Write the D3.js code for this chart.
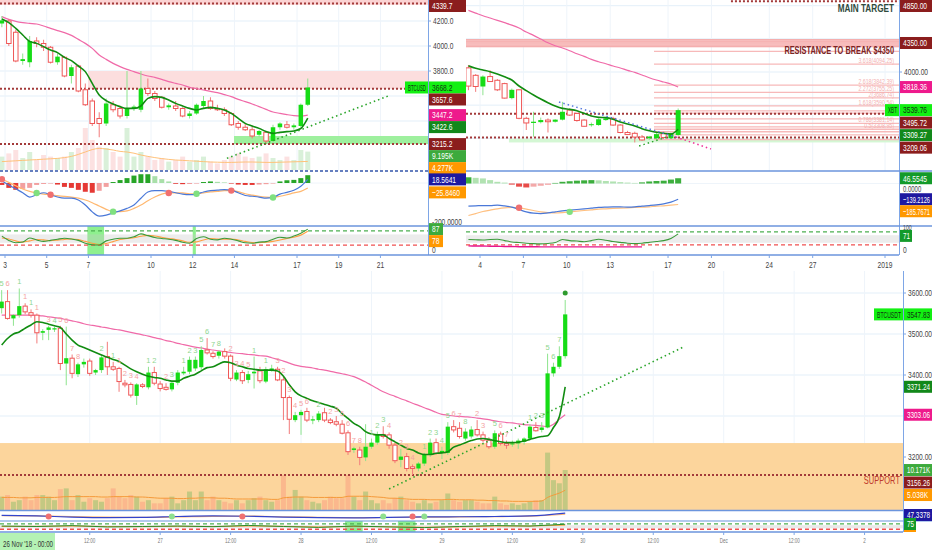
<!DOCTYPE html>
<html><head><meta charset="utf-8">
<script src="https://cdn.jsdelivr.net/npm/d3@7/dist/d3.min.js"></script>
<style>body{margin:0;background:#fff;overflow:hidden}text{font-family:'Liberation Sans',Arial,sans-serif;font-size:9.5px}</style>
</head><body><script>
// ================= DATA =================
// Panel A (top-left, BTCUSD, 8h candles) [open, high, low, close]
const aStartDay = 2.85, aStepDay = 1/3;
const aCandles = [
[4180,4240,4150,4205],[4200,4215,4000,4020],[4110,4130,3870,3880],[3880,3940,3850,3895],[3870,4080,3830,4040],
[4040,4070,3990,4020],[4020,4050,3960,3990],[3990,4000,3860,3870],[3870,3940,3850,3915],[3910,3920,3750,3760],
[3760,3850,3700,3830],[3840,3850,3630,3640],[3650,3700,3520,3530],[3560,3580,3360,3380],[3420,3470,3270,3380],
[3380,3580,3360,3540],[3530,3560,3470,3490],[3500,3520,3420,3440],[3440,3800,3420,3500],[3500,3530,3480,3515],
[3490,3800,3470,3660],[3660,3740,3600,3620],[3620,3640,3560,3580],[3590,3600,3500,3510],[3510,3540,3490,3525],
[3520,3560,3480,3500],[3500,3510,3430,3440],[3440,3480,3420,3460],[3460,3540,3450,3530],[3520,3600,3500,3560],
[3560,3590,3490,3500],[3500,3530,3480,3490],[3490,3510,3440,3460],[3460,3470,3360,3370],[3380,3400,3330,3350],
[3350,3380,3320,3330],[3330,3360,3260,3280],[3290,3330,3270,3320],[3310,3320,3215,3240],[3240,3370,3230,3350],
[3350,3390,3330,3380],[3370,3400,3340,3350],[3350,3380,3330,3365],[3360,3540,3350,3530],[3530,3740,3520,3668.2]];
const aEma = [4216,4187,4141,4088,4037,4021,3995,3968,3947,3909,3883,3840,3795,3701,3608,3563,3536,3515,3501,3501,
3520,3581,3595,3589,3568,3541,3520,3501,3488,3501,3509,3501,3488,3461,3421,3381,3360,3341,3315,3301,3309,3315,3320,3340,3422.6];
const aSma = [4235,4213,4197,4187,4181,4176,4160,4141,4123,4107,4085,4053,4021,3981,3928,3893,3861,3835,3813,3795,
3776,3760,3749,3733,3715,3701,3688,3669,3659,3648,3637,3627,3611,3595,3573,3555,3536,3515,3493,3472,3461,3451,3443,3440,3447.2];
const aVol = [6.7,8.3,10,6,9,5,7.5,6.7,6,6.7,9,11,21,15,11.7,11,9,6.7,21,6.7,9,6.7,5,6,4.2,5,6.7,4.2,5,6.7,4.2,3.3,5,6.7,8.3,6.7,6,6.7,8.3,6,5,6.7,5,10,9.195];
const aVolMa = [4.2,4.4,4.6,4.8,5.0,5.2,5.4,5.6,5.8,6.2,6.8,7.8,9.0,10.2,10.8,10.5,10.0,9.3,9.0,8.4,7.5,6.8,6.2,5.7,5.3,5.0,4.8,4.6,4.4,4.2,4.0,3.9,3.8,3.8,3.9,4.0,4.0,3.9,3.8,3.8,3.9,4.0,4.1,4.2,4.277];
const aMacd = [10,-10,-30,-50,-72,-60,-50,-60,-72,-78,-78,-87,-113,-148,-170,-165,-153,-143,-130,-113,-78,-46,-39,-39,-43,-50,-57,-60,-57,-46,-39,-37,-34,-37,-50,-64,-68,-72,-78,-74,-57,-48,-37,-17,18.5641];
const aSignal = [19,3,-14,-31,-43,-51,-57,-60,-65,-69,-72,-78,-87,-101,-118,-135,-147,-147,-143,-130,-113,-91,-72,-57,-51,-51,-51,-55,-55,-51,-46,-43,-39,-39,-44,-55,-62,-68,-72,-74,-68,-60,-51,-43,-25.846];
const aHist = [-10,-25,-35,-30,-25,-10,-5,-3,-8,-20,-25,-35,-45,-50,-40,-20,5,15,25,38,45,45,35,20,8,-4,-6,-5,-3,5,8,6,3,-3,-8,-10,-10,-8,-6,-3,8,14,16,25,40];
const aCrossIdx = [0,5,7,16,24,28,33,39], aCrossUp = [0,1,0,1,0,1,0,1];
const aStochK = [58,40,30,33,50,42,36,40,45,49,46,40,28,22,21,38,45,49,49,55,67,60,52,48,45,40,32,28,48,55,45,42,49,45,38,30,28,33,35,45,53,50,58,70,87];
const aStochD = [50,46,38,33,38,44,42,39,41,44,46,44,36,28,23,27,35,44,48,51,57,61,58,53,48,44,38,32,34,42,48,46,45,46,42,36,31,30,32,36,42,48,53,62,78];
const aStochHi = [[6.95,7.75],[12.0,12.15]];
const aTicks = [4200,4000,3800,3600,3400];
const aDayTicks = [3,5,7,10,12,14,17,19,21];
const aPinkZone = [3657.6,3800], aPinkZoneFromDay = 6.98;
const aGreenZone = [3215.2,3280], aGreenZoneFromDay = 13.98;
const aTopZone = [4330,4372];
const aLevels = [4339.7,3657.6,3215.2];
const aTrend = [[13.64,3101],[21.4,3602]];

// Panel B (top-right, XBT, 12h candles)
const bStartDay = 3.2, bStepDay = 0.5;
const bCandles = [
[4050,4085,3780,3830],[3960,3975,3760,3825],[3825,3960,3720,3945],[3945,4020,3880,3885],[3900,3915,3770,3785],
[3860,3870,3680,3685],[3685,3800,3670,3785],[3785,3790,3430,3441],[3441,3460,3300,3385],[3385,3520,3220,3400],
[3395,3450,3380,3420],[3420,3440,3270,3400],[3400,3430,3390,3425],[3425,3640,3415,3520],[3540,3560,3470,3480],
[3500,3510,3400,3415],[3420,3430,3340,3345],[3360,3390,3340,3370],[3360,3440,3350,3430],[3420,3450,3410,3440],
[3440,3460,3350,3360],[3360,3370,3260,3270],[3270,3290,3240,3245],[3260,3280,3150,3215],[3215,3240,3170,3180],
[3200,3230,3180,3220],[3200,3270,3190,3250],[3255,3280,3200,3210],[3200,3270,3190,3260],[3240,3560,3230,3539.76]];
const bEma = [4076,4044,4024,4004,3976,3943,3903,3831,3775,3722,3674,3630,3590,3561,3549,3533,3501,3469,3453,3449,3429,3397,3373,3348,3316,3292,3272,3260,3252,3309.27];
const bSma = [4743,4711,4679,4651,4623,4595,4566,4530,4482,4442,4398,4353,4317,4289,4257,4221,4189,4152,4124,4100,4072,4048,4020,3996,3964,3931,3903,3879,3855,3818.36];
const bMacd = [-200,-198,-195,-195,-192,-198,-209,-230,-251,-263,-266,-260,-251,-242,-236,-230,-224,-218,-212,-209,-207,-207,-209,-207,-200,-195,-189,-180,-165,-139.2126];
const bSignal = [-283,-266,-248,-236,-224,-215,-212,-215,-227,-239,-251,-257,-260,-257,-251,-245,-239,-233,-227,-224,-221,-218,-215,-212,-209,-207,-200,-198,-192,-185.7671];
const bHist = [55,50,45,30,15,8,-10,-28,-35,-28,-20,-12,5,15,20,25,28,30,28,22,18,12,8,5,10,18,22,25,35,46.5545];
const bCrossIdx = [7,14], bCrossUp = [0,1];
const bStochK = [45,44,43,45,46,40,34,31,28,26,25,27,31,45,40,38,35,40,46,42,36,32,28,26,28,32,36,40,50,71];
const bStochM = [16,15,15,14,14,13,13,12,12,12,11,11,11,11,11,11,11,11,11,11,11,11,11,11,11];
const bTicks = [4800,4400,4000,3600,3200];
const bDayTicks = [4,7,10,13,17,20,24,27,32];
const bDayLabels = ['4','7','10','13','17','20','24','27','2019'];
const bResZone = [4300,4395];
const bGreenZone = [3150,3195], bGreenZoneFromDay = 6.0;
const bLevels = [3495.72,3209.06];
const bTarget = 4855, bTargetFromDay = 21.35;
const bFibFromDay = 16.03;
const bFibTxt = ['4.236','3.618','2.618','2.272','2','1.618','1.382','1.272','1','0.786','0.618','0.5','0.382','0.236','0'];
const bFibPrice = [4249.9,4094.25,3842.39,3755.25,3686.74,3590.54,3531.15,3503.40,3434.88,3381.14,3338.67,3308.95,3279.23,3242.46,3183.02];
const bFibLabeled = [0,1,1,1,1,1,0,0,0,1,0,1,0,0,0];
const bTrendBlue = [[9.46,3638],[17.55,3216]], bTrendPink = [[17.55,3216],[19.97,3071]], bTrendGreen = [[15.0,3107],[17.35,3240]];

// Panel C (bottom, BTCUSDT, 1h candles)
const cCandles = [
[3563,3607,3550,3579],[3579,3607,3535,3538],[3538,3548,3520,3546],[3546,3611,3540,3568],[3568,3575,3548,3554],
[3552,3560,3540,3546],[3546,3550,3477,3503],[3503,3512,3485,3507],[3510,3520,3485,3516],[3511,3518,3505,3514],
[3514,3520,3412,3428],[3428,3518,3375,3441],[3441,3450,3392,3404],[3402,3430,3395,3426],[3426,3440,3418,3432],
[3434,3440,3398,3404],[3406,3415,3400,3412],[3412,3450,3405,3443],[3445,3481,3400,3420],[3420,3432,3410,3414],
[3416,3420,3359,3384],[3380,3388,3370,3376],[3377,3382,3345,3351],[3349,3380,3327,3377],[3376,3380,3368,3372],
[3370,3420,3365,3406],[3406,3420,3375,3380],[3378,3385,3360,3367],[3370,3380,3362,3365],[3365,3385,3360,3381],
[3381,3412,3375,3406],[3404,3420,3400,3408],[3408,3445,3402,3437],[3416,3445,3410,3437],[3419,3470,3412,3461],
[3461,3490,3450,3454],[3453,3458,3440,3445],[3447,3460,3440,3457],[3457,3465,3440,3446],[3446,3450,3385,3392],
[3389,3412,3385,3406],[3406,3412,3378,3386],[3388,3410,3380,3402],[3404,3445,3367,3408],[3410,3420,3380,3386],
[3384,3420,3380,3414],[3412,3425,3408,3416],[3414,3420,3385,3388],[3388,3395,3290,3345],[3345,3350,3256,3292],
[3290,3310,3285,3302],[3302,3315,3254,3310],[3311,3320,3285,3290],[3289,3300,3280,3292],[3290,3312,3285,3306],
[3308,3320,3285,3290],[3290,3295,3280,3284],[3286,3300,3275,3280],[3280,3290,3255,3258],[3259,3265,3205,3213],
[3217,3225,3210,3221],[3217,3225,3180,3199],[3199,3280,3190,3225],[3225,3245,3220,3235],[3235,3262,3230,3255],
[3255,3275,3245,3250],[3254,3260,3220,3229],[3229,3235,3185,3191],[3193,3220,3175,3201],[3201,3210,3165,3172],
[3176,3182,3156,3172],[3172,3188,3165,3184],[3184,3210,3178,3205],[3205,3245,3200,3235],[3235,3245,3205,3209],
[3210,3225,3195,3215],[3210,3285,3205,3274],[3274,3290,3260,3266],[3270,3285,3245,3250],[3245,3270,3240,3262],
[3250,3275,3245,3267],[3267,3290,3250,3254],[3254,3262,3235,3241],[3241,3248,3220,3225],[3225,3265,3220,3258],
[3256,3262,3228,3233],[3233,3240,3220,3229],[3232,3240,3225,3233],[3233,3245,3220,3240],[3237,3248,3230,3245],
[3245,3280,3242,3274],[3272,3285,3262,3264],[3266,3285,3260,3272],[3272,3452,3270,3404],[3404,3430,3396,3420],
[3420,3470,3415,3446],[3446,3583,3440,3547.83]];
const cEma = [3473,3489,3500,3505,3514,3522,3530,3528,3524,3520,3516,3500,3485,3473,3467,3461,3455,3449,3443,3438,
3433,3424,3415,3408,3402,3397,3394,3392,3388,3385,3385,3392,3397,3402,3410,3418,3420,3427,3432,3430,
3424,3420,3416,3414,3412,3412,3412,3410,3397,3376,3359,3349,3343,3337,3333,3328,3324,3319,3306,3294,
3282,3274,3262,3256,3254,3254,3245,3237,3229,3221,3217,3210,3206,3206,3209,3210,3213,3224,3229,3235,
3240,3244,3245,3243,3240,3237,3235,3235,3236,3239,3243,3247,3250,3252,3272,3298,3371.24];
const cSma = [3546,3546,3546,3546,3546,3546,3545,3544,3542,3540,3538,3535,3532,3529,3525,3522,3520,3517,3515,3512,
3510,3507,3504,3501,3498,3495,3491,3488,3484,3481,3477,3474,3471,3468,3466,3463,3461,3459,3457,3455,
3453,3452,3450,3449,3447,3446,3442,3438,3434,3429,3424,3421,3419,3417,3414,3412,3409,3406,3403,3400,
3396,3390,3383,3375,3367,3359,3353,3348,3342,3337,3331,3326,3320,3315,3309,3304,3302,3300,3299,3298,
3297,3295,3293,3291,3288,3286,3284,3283,3281,3279,3278,3277,3276,3274,3280,3292,3303.06];
const cVol = [3.4,3.8,2.1,2.5,3.4,2.5,3.8,3.8,3.4,2.5,5.3,5.5,2.5,3.8,2.1,3.0,2.5,2.1,3.0,5.5,
3.4,3.0,3.8,3.4,2.1,2.5,1.7,1.7,3.0,3.4,1.7,2.5,4.7,2.5,4.7,2.5,3.4,2.5,2.1,1.7,
2.5,1.7,2.5,3.0,3.4,2.5,2.1,2.5,8.9,3.4,5.1,3.4,2.5,2.1,1.7,2.5,3.4,3.0,3.0,8.9,
3.4,2.5,4.7,2.5,1.7,2.5,1.7,3.0,3.4,2.5,2.1,1.7,2.5,1.7,2.1,2.5,4.2,2.5,2.1,2.5,
2.5,2.1,1.7,1.7,3.4,1.7,1.3,1.7,1.3,1.7,2.1,2.5,2.5,14.6,7.6,6.8,10.171];
const cVolMa = [3.2,3.2,3.2,3.1,3.1,3.1,3.2,3.2,3.2,3.2,3.3,3.4,3.4,3.4,3.4,3.4,3.4,3.3,3.3,3.4,
3.4,3.4,3.4,3.3,3.3,3.2,3.1,3.0,3.0,3.0,2.9,2.9,3.0,3.0,3.1,3.1,3.1,3.0,3.0,2.9,
2.8,2.8,2.8,2.8,2.8,2.8,2.7,2.7,3.1,3.2,3.3,3.3,3.3,3.2,3.2,3.2,3.2,3.2,3.2,3.5,
3.5,3.5,3.5,3.4,3.3,3.2,3.0,3.0,2.9,2.8,2.7,2.7,2.7,2.6,2.6,2.6,2.7,2.7,2.6,2.6,
2.6,2.5,2.5,2.4,2.4,2.3,2.3,2.2,2.2,2.2,2.2,2.2,2.3,3.2,3.8,4.3,5.038];
const cTicks = [3600,3500,3400,3300,3200];
const cTimeTickIdx = [15,27,39,51,63,75,87,99,111,123,135,147];
const cTimeLabels = ['12:00','27','12:00','28','12:00','29','12:00','30','12:00','Dec','12:00','2'];
const cSupportZoneTop = 3234, cSupport = 3156.26;
const cTrend = [[66.0,3122],[116.1,3468]];
const tdIdx = [0,1,3,4,5,6,8,9,10,11,12,13,17,19,20,21,22,23,25,26,28,29,31,32,33,34,35,36,37,39,40,41,42,43,45,47,48,49,50,51,52,54,56,57,58,59,60,61,63,64,65,66,68,69,70,72,73,74,75,76,77,78,79,81,82,84,85,86,90,91,92,93,94,95];
const tdTxt = ['5','6','1','1','1','1','3','4','5','6','7','8','2','1','1','2','3','4','1','2','2','3','1','2','3','5','6','7','8','2','3','4','5','1','1','3','2','3','4','5','6','2','2','3','5','6','7','8','1','2','3','4','2','3','4','1','2','3','4','5','6','7','8','2','3','5','6','7','1','2','3','5','6','7'];
const tdUp = [1,0,1,0,1,0,0,1,0,0,0,0,1,1,0,0,0,0,1,1,0,1,1,1,1,1,1,1,1,0,0,0,0,1,1,0,0,0,0,0,0,1,0,0,0,0,0,0,1,1,1,0,0,0,0,1,1,1,1,1,0,0,1,0,0,1,0,0,1,1,1,1,1,1];
const cMiniIdx = [0,6,12,18,24,30,36,42,48,54,60,66,72,78,84,90,96];
const cMiniMacd = [10,5,-5,-10,-8,0,5,2,-6,-10,-12,-8,-4,-2,0,5,30];
const cMiniSig = [8,6,0,-6,-8,-4,2,3,-2,-7,-10,-9,-6,-3,-1,3,20];
const cMiniDots = [[8,0],[29,1],[41,0],[65,1],[70,0],[72,1]];
const cMiniK = [55,50,60,45,50,55,48,62,50,40,55,45,38,50,60,55,75];
const cMiniD = [50,52,55,50,48,52,50,55,52,45,50,48,42,46,55,55,65];
const cStochHi = [[58.5,61.5],[67.5,70.5]];

// ================= DRAW =================
const W = 932, H = 550;
const DR='#8b1d1d', PINK='#ee1a8c', DG='#12881a', GM='#3daa3d', OR='#ff9800', NAVY='#1e18a0', BG='#12f012';
const svg = d3.select('body').append('svg').attr('width',W).attr('height',H).style('display','block');
const defs = svg.append('defs');
let cid = 0;
function clipG(x,y,w,h){ const id='c'+(cid++); defs.append('clipPath').attr('id',id).append('rect').attr('x',x).attr('y',y).attr('width',w).attr('height',h); return svg.append('g').attr('clip-path',`url(#${id})`); }
function hline(g,x1,x2,y,col,w,dash){ g.append('line').attr('x1',x1).attr('x2',x2).attr('y1',y).attr('y2',y).attr('stroke',col).attr('stroke-width',w||1).attr('stroke-dasharray',dash||null); }
function vline(g,x,y1,y2,col,w,dash){ g.append('line').attr('x1',x).attr('x2',x).attr('y1',y1).attr('y2',y2).attr('stroke',col).attr('stroke-width',w||1).attr('stroke-dasharray',dash||null); }
function candles(g,data,xf,y,w){
  const up = d=>d[3]>=d[0];
  g.selectAll(null).data(data).join('line').attr('x1',(d,i)=>xf(i)).attr('x2',(d,i)=>xf(i))
   .attr('y1',d=>y(d[1])).attr('y2',d=>y(d[2])).attr('stroke',d=>up(d)?'#8ee48e':'#f27b7b');
  g.selectAll(null).data(data).join('rect').attr('x',(d,i)=>xf(i)-w/2).attr('y',d=>y(Math.max(d[0],d[3])))
   .attr('width',w).attr('height',d=>Math.max(1,Math.abs(y(d[0])-y(d[3]))))
   .attr('fill',d=>up(d)?'#16dc16':'#fff').attr('stroke',d=>up(d)?'none':'#ef5757').attr('stroke-width',1);
}
function path(g,vals,xf,y,col,w,curve,dash){
  g.append('path').datum(vals).attr('fill','none').attr('stroke',col).attr('stroke-width',w)
   .attr('stroke-dasharray',dash||null)
   .attr('d',d3.line().x((d,i)=>xf(i)).y(d=>y(d)).curve(curve||d3.curveMonotoneX));
}
function seg(g,pts,xs,ys,col,w,dash){
  g.append('path').datum(pts).attr('fill','none').attr('stroke',col).attr('stroke-width',w).attr('stroke-dasharray',dash)
   .attr('d',d3.line().x(d=>xs(d[0])).y(d=>ys(d[1])));
}
function hist(g,vals,xf,y,w,alpha){
  g.selectAll(null).data(vals).join('rect').attr('x',(d,i)=>xf(i)-w/2)
   .attr('y',d=>Math.min(y(0),y(d))).attr('width',w).attr('height',d=>Math.abs(y(d)-y(0)))
   .attr('fill',(d,i)=>{ const p = i>0?vals[i-1]:d; if(d>=0) return d>=p?'#27a527':'#a9dfa9'; return d<=p?'#e53935':'#f2a0a0'; })
   .attr('opacity',alpha||1);
}
function volBars(g,vals,cands,xf,y,w,gc,rc){
  g.selectAll(null).data(vals).join('rect').attr('x',(d,i)=>xf(i)-w/2).attr('y',d=>y(d)).attr('width',w)
   .attr('height',d=>y(0)-y(d)).attr('fill',(d,i)=>cands[i][3]>=cands[i][0]?gc:rc);
}
const textLayer = [];
function txt(g,x,y,s,o){
  o=o||{};
  const t = g.append('text').attr('x',x).attr('y',y).attr('dy','0.35em').text(s)
    .attr('fill',o.fill||'#444').attr('text-anchor',o.anchor||'start')
    .style('font-size',(o.size||9.5)+'px').style('font-weight',o.bold?'bold':null);
  textLayer.push([t.node(),o.k||0.7,o.max||0]);
  return t;
}
function tag(g,x,y,s,bg,fg,w){
  g.append('rect').attr('x',x).attr('y',y-6).attr('width',w).attr('height',12).attr('fill',bg);
  txt(g,x+3,y,s,{fill:fg||'#fff',max:w-5});
}
function place(items,gap,minY){ items.sort((a,b)=>a.y-b.y); if(minY!==undefined && items.length && items[0].y<minY) items[0].y=minY;
  for(let i=1;i<items.length;i++) if(items[i].y<items[i-1].y+gap) items[i].y=items[i-1].y+gap; return items; }
function priceTicks(ticks,ys,X,fmt,tags,max){
  ticks.forEach(t=>{ const y=ys(t); hline(svg,X,X+3,y,'#7ea6e6');
    if(!tags.some(l=>Math.abs(l.y-y)<10)) txt(svg,X+5,y,fmt(t),{max:max}); });
}

// ---------- Panel A ----------
const xA = d3.scaleLinear().domain([3,17]).range([5,297]);
const axA = i => xA(aStartDay + i*aStepDay);
const yA = d3.scaleLinear().domain([3200,4200]).range([146,21]);
const vA = d3.scaleLinear().domain([0,10]).range([170,150]);
const mA = d3.scaleLinear().domain([-200,0]).range([222,183]);
const sA = d3.scaleLinear().domain([0,100]).range([250,226]);
const XA = 428;
const gA = clipG(0,0,XA,171);
aTicks.forEach(t=>hline(gA,0,XA,yA(t),'#e3eff9'));
aDayTicks.forEach(d=>vline(gA,xA(d),0,171,'#eef4fa'));
gA.append('rect').attr('x',0).attr('y',yA(aTopZone[1])).attr('width',XA).attr('height',yA(aTopZone[0])-yA(aTopZone[1])).attr('fill','#fbd3d3');
gA.append('rect').attr('x',xA(aPinkZoneFromDay)).attr('y',yA(aPinkZone[1])).attr('width',XA-xA(aPinkZoneFromDay)).attr('height',yA(aPinkZone[0])-yA(aPinkZone[1])).attr('fill','#fcdede');
gA.append('rect').attr('x',xA(aGreenZoneFromDay)).attr('y',yA(aGreenZone[1])).attr('width',XA-xA(aGreenZoneFromDay)).attr('height',yA(aGreenZone[0])-yA(aGreenZone[1])).attr('fill','#9ef09e');
aLevels.forEach(v=>hline(gA,0,XA,yA(v),'#a33a3a',2,'2,2'));
volBars(gA,aVol,aCandles,axA,vA,5,'rgba(120,200,120,0.28)','rgba(240,120,120,0.22)');
path(gA,aVolMa,axA,vA,'#ffc27a',1);
path(gA,aSma,axA,yA,'#f06aa8',1.2);
candles(gA,aCandles,axA,yA,4.5);
path(gA,aEma,axA,yA,'#118c11',1.6);
seg(gA,aTrend,xA,yA,'#2aa52a',1.6,'1.5,3');
// MACD A
const gAm = clipG(0,171,XA,55);
hline(gAm,0,XA,mA(0),'#eef4fa');
hist(gAm,aHist,axA,mA,5);
path(gAm,aSignal,axA,mA,'#ffb870',1.2);
path(gAm,aMacd,axA,mA,'#4a78d8',1.2);
gAm.selectAll(null).data(aCrossIdx).join('circle').attr('cx',i=>axA(i)).attr('cy',i=>mA(aSignal[i])).attr('r',3.2)
  .attr('fill',(d,k)=>aCrossUp[k]?'#7fe07f':'#f07070');
// Stoch A
const gAs = clipG(0,226,XA,29);
aStochHi.forEach(r=>gAs.append('rect').attr('x',xA(r[0])).attr('y',226).attr('width',xA(r[1])-xA(r[0])).attr('height',29).attr('fill','#8ef08e'));
gAs.append('rect').attr('x',0).attr('y',sA(65)).attr('width',XA).attr('height',sA(30)-sA(65)).attr('fill','rgba(200,200,200,0.35)');
hline(gAs,0,XA,sA(80),'#4caf50',1.2,'4,3');
hline(gAs,0,XA,sA(20),'#f05050',1.2,'4,3');
path(gAs,aStochD,axA,sA,'#ff9f40',1.1);
path(gAs,aStochK,axA,sA,'#3a9a3a',1.1);
// axes A
vline(svg,XA+0.5,0,255,'#7ea6e6',1);
hline(svg,0,466,171,'#3355aa',1.5,'3,2');
hline(svg,0,466,226,'#6b95dd',1.5);
hline(svg,0,466,255,'#6b95dd',1.5);
aDayTicks.forEach(d=>{ vline(svg,xA(d),255,258,'#7ea6e6'); txt(svg,xA(d),265,String(d),{anchor:'middle'}); });
{
  const L = place([
    {y:yA(aLevels[0]),t:'4339.7',bg:DR},
    {y:yA(aCandles[aCandles.length-1][3]),t:d3.format('.1f')(aCandles[aCandles.length-1][3]),bg:BG,fg:'#113311',tag:'BTCUSD'},
    {y:yA(aLevels[1]),t:'3657.6',bg:DR},
    {y:yA(aSma[aSma.length-1]),t:d3.format('.1f')(aSma[aSma.length-1]),bg:PINK},
    {y:yA(aEma[aEma.length-1]),t:d3.format('.1f')(aEma[aEma.length-1]),bg:DG},
    {y:yA(aLevels[2]),t:'3215.2',bg:DR},
    {y:vA(aVol[aVol.length-1]),t:d3.format('.3f')(aVol[aVol.length-1])+'K',bg:GM},
    {y:vA(aVolMa[aVolMa.length-1]),t:d3.format('.3f')(aVolMa[aVolMa.length-1])+'K',bg:OR}],12,6);
  priceTicks(aTicks,yA,XA,d3.format('.1f'),L,34);
  L.forEach(l=>{ tag(svg,XA+1,l.y,l.t,l.bg,l.fg,37); if(l.tag) tag(svg,XA-23,l.y,l.tag,l.bg,l.fg,23); });
  const M = place([{y:mA(aMacd[aMacd.length-1]),t:d3.format('.4f')(aMacd[aMacd.length-1]),bg:NAVY},
                   {y:mA(aSignal[aSignal.length-1]),t:d3.format('.4f')(aSignal[aSignal.length-1]),bg:OR}],13);
  M.forEach(l=>tag(svg,XA+1,l.y,l.t,l.bg,'#fff',37));
  txt(svg,XA+4,mA(-200),'-200.0000');
  txt(svg,XA+4,sA(0),'0');
  const S = place([{y:sA(aStochK[aStochK.length-1]),t:String(aStochK[aStochK.length-1]),bg:GM},
                   {y:sA(aStochD[aStochD.length-1]),t:String(aStochD[aStochD.length-1]),bg:OR}],12);
  S.forEach(l=>tag(svg,XA+1,l.y,l.t,l.bg,'#fff',14));
}

// ---------- Panel B ----------
const xB = d3.scaleLinear().domain([4,32]).range([480,885]);
const bxB = i => xB(bStartDay + i*bStepDay);
const yB = d3.scaleLinear().domain([3200,4800]).range([138.3,5.7]);
const mB = d3.scaleLinear().domain([-200,0]).range([206.1,183.5]);
const sB = d3.scaleLinear().domain([0,100]).range([249.3,227.6]);
const XB = 899, X0B = 466;
const gB = clipG(X0B,0,XB-X0B,171);
bTicks.forEach(t=>hline(gB,X0B,XB,yB(t),'#e3eff9'));
bDayTicks.forEach(d=>vline(gB,xB(d),0,171,'#eef4fa'));
gB.append('rect').attr('x',X0B).attr('y',yB(bResZone[1])).attr('width',XB-X0B).attr('height',yB(bResZone[0])-yB(bResZone[1])).attr('fill','#fbd0d0');
[4305,4325,4350,4372,4390].forEach(v=>hline(gB,X0B,XB,yB(v),'#f3a5a5',1));
gB.append('rect').attr('x',xB(bGreenZoneFromDay)).attr('y',yB(bGreenZone[1])).attr('width',XB-xB(bGreenZoneFromDay)).attr('height',yB(bGreenZone[0])-yB(bGreenZone[1])).attr('fill','#d4f7d4');
bFibPrice.forEach(p=>hline(gB,xB(bFibFromDay),XB,yB(p),'#f7b9b9',1.3));
bLevels.forEach(v=>hline(gB,X0B,XB,yB(v),'#a33a3a',2,'2,2'));
hline(gB,xB(bTargetFromDay),XB,yB(bTarget),'#a33a3a',2,'2,2');
path(gB,bSma,bxB,yB,'#f06aa8',1.2);
candles(gB,bCandles,bxB,yB,5);
path(gB,bEma,bxB,yB,'#118c11',1.6);
seg(gB,bTrendBlue,xB,yB,'#5577dd',1.5,'1.5,3');
seg(gB,bTrendPink,xB,yB,'#ee3399',1.5,'1.5,3');
seg(gB,bTrendGreen,xB,yB,'#2aa52a',1.5,'1.5,3');
bFibPrice.forEach((p,k)=>{ if(bFibLabeled[k]) txt(svg,894,yB(p)-3.5,bFibTxt[k]+'('+d3.format('.2f')(p)+')',{anchor:'end',fill:'#f3b0b0',size:7.5}); });
txt(svg,894,8,'MAIN TARGET',{anchor:'end',fill:'#2f4a3c',bold:true,size:10.5,k:0.78});
txt(svg,894,50,'RESISTANCE TO BREAK $4350',{anchor:'end',fill:'#7a2424',bold:true,size:10.5,k:0.7});
// MACD B
const gBm = clipG(X0B,171,XB-X0B,55);
hline(gBm,X0B,XB,mB(0),'#eef4fa');
hist(gBm,bHist,bxB,mB,6,0.9);
path(gBm,bSignal,bxB,mB,'#ffc080',1.2);
path(gBm,bMacd,bxB,mB,'#4a78d8',1.2);
gBm.selectAll(null).data(bCrossIdx).join('circle').attr('cx',i=>bxB(i)).attr('cy',i=>mB(bSignal[i])).attr('r',3.2)
  .attr('fill',(d,k)=>bCrossUp[k]?'#7fe07f':'#f07070');
// Stoch B
const gBs = clipG(X0B,226,XB-X0B,29);
gBs.append('rect').attr('x',X0B).attr('y',sB(65)).attr('width',XB-X0B).attr('height',sB(30)-sB(65)).attr('fill','rgba(200,200,200,0.35)');
hline(gBs,X0B,XB,sB(80),'#4caf50',1.2,'4,3');
hline(gBs,X0B,XB,sB(20),'#f05050',1.2,'4,3');
path(gBs,bStochM,bxB,sB,'#e8148c',1.4);
path(gBs,bStochK,bxB,sB,'#3a9a3a',1.1);
vline(svg,XB+0.5,0,255,'#7ea6e6',1);
hline(svg,466,932,171,'#6b95dd',1.5);
hline(svg,466,932,226,'#6b95dd',1.5);
hline(svg,466,XB,255,'#6b95dd',1.5);
bDayTicks.forEach((d,k)=>{ vline(svg,xB(d),255,258,'#7ea6e6'); txt(svg,xB(d),265,bDayLabels[k],{anchor:'middle'}); });
{
  const L = place([
    {y:yB(bTarget),t:'4850.00',bg:DR},
    {y:yB(4350),t:'4350.00',bg:DR},
    {y:yB(bSma[bSma.length-1]),t:d3.format('.2f')(bSma[bSma.length-1]),bg:PINK},
    {y:yB(bCandles[bCandles.length-1][3]),t:d3.format('.2f')(bCandles[bCandles.length-1][3]),bg:BG,fg:'#113311',tag:'XBT'},
    {y:yB(bLevels[0]),t:d3.format('.2f')(bLevels[0]),bg:DR},
    {y:yB(bEma[bEma.length-1]),t:d3.format('.2f')(bEma[bEma.length-1]),bg:DG},
    {y:yB(bLevels[1]),t:d3.format('.2f')(bLevels[1]),bg:DR}],12.5,6);
  priceTicks(bTicks,yB,XB,d3.format('.2f'),L,28);
  L.forEach(l=>{ tag(svg,XB+1,l.y,l.t,l.bg,l.fg,32); if(l.tag) tag(svg,XB-14,l.y,l.tag,l.bg,l.fg,14); });
  txt(svg,XB+4,189,'0.0000',{size:8.5});
  tag(svg,XB+1,mB(bHist[bHist.length-1]),d3.format('.4f')(bHist[bHist.length-1]),'#139a2a','#fff',32);
  const M = place([{y:mB(bMacd[bMacd.length-1]),t:d3.format('.4f')(bMacd[bMacd.length-1]),bg:NAVY},
                   {y:mB(bSignal[bSignal.length-1]),t:d3.format('.4f')(bSignal[bSignal.length-1]),bg:OR}],12);
  M.forEach(l=>tag(svg,XB+1,l.y,l.t,l.bg,'#fff',32));
  txt(svg,XB+4,sB(100),'100',{size:7.5});
  tag(svg,XB+1,sB(bStochK[bStochK.length-1])+2,String(bStochK[bStochK.length-1]),'#139a2a','#fff',12);
  txt(svg,XB+4,sB(0),'0');
}

// ---------- Panel C ----------
const xC = d3.scaleLinear().domain([0,96]).range([1.67,565.2]);
const yC = d3.scaleLinear().domain([3200,3600]).range([457,293]);
const vC = d3.scaleLinear().domain([0,10]).range([510,470.7]);
const XC = 903;
const gC = clipG(0,271,XC,239);
cTicks.forEach(t=>hline(gC,0,XC,yC(t),'#e3eff9'));
cTimeTickIdx.forEach(i=>vline(gC,xC(i),271,510,'#eef4fa'));
gC.append('rect').attr('x',0).attr('y',yC(cSupportZoneTop)).attr('width',XC).attr('height',510-yC(cSupportZoneTop)).attr('fill','#fcd59c');
volBars(gC,cVol,cCandles,xC,vC,5,'rgba(150,190,110,0.55)','rgba(250,160,130,0.55)');
path(gC,cVolMa,xC,vC,'#f59a3a',1);
hline(gC,0,XC,yC(cSupport),'#a33a3a',2,'2,2');
path(gC,cSma,xC,yC,'#f06aa8',1.2);
candles(gC,cCandles,xC,yC,4.2);
path(gC,cEma,xC,yC,'#118c11',1.6);
seg(gC,cTrend,xC,yC,'#2aa52a',1.6,'1.5,3');
gC.selectAll(null).data(tdIdx).join('text').attr('x',i=>xC(i)).attr('y',i=>yC(cCandles[i][1])-4)
  .attr('text-anchor','middle').style('font-size','7.5px').attr('fill',(i,k)=>tdUp[k]?'#8fd68f':'#f4a3a3').text((i,k)=>tdTxt[k]);
gC.append('circle').attr('cx',xC(96)).attr('cy',yC(3600)).attr('r',2.5).attr('fill','#2e9b2e');
txt(svg,900,yC(cSupport)+6,'SUPPORT',{anchor:'end',fill:'#c0392b',size:10,k:0.75});
// mini panes
const mC = d3.scaleLinear().domain([-40,40]).range([521,512]);
const sC = d3.scaleLinear().domain([0,100]).range([531,522]);
const gCm = clipG(0,511,XC,10);
gCm.append('path').datum(cMiniIdx.map((d,k)=>[d,cMiniSig[k]])).attr('fill','none').attr('stroke','#ffb870').attr('stroke-width',1.2).attr('d',d3.line().x(d=>xC(d[0])).y(d=>mC(d[1])).curve(d3.curveMonotoneX));
gCm.append('path').datum(cMiniIdx.map((d,k)=>[d,cMiniMacd[k]])).attr('fill','none').attr('stroke','#3344cc').attr('stroke-width',1.2).attr('d',d3.line().x(d=>xC(d[0])).y(d=>mC(d[1])).curve(d3.curveMonotoneX));
gCm.selectAll(null).data(cMiniDots).join('circle').attr('cx',d=>xC(d[0])).attr('cy',mC(0)).attr('r',3).attr('fill',d=>d[1]?'#8fe08f':'#f07070');
const gCs = clipG(0,521,XC,11);
cStochHi.forEach(r=>gCs.append('rect').attr('x',xC(r[0])).attr('y',521).attr('width',xC(r[1])-xC(r[0])).attr('height',11).attr('fill','#8ef08e'));
gCs.append('rect').attr('x',0).attr('y',sC(65)).attr('width',XC).attr('height',sC(30)-sC(65)).attr('fill','rgba(200,200,200,0.4)');
hline(gCs,0,XC,sC(80),'#4caf50',1.2,'4,3');
hline(gCs,0,XC,sC(20),'#f05050',1.5,'4,3');
gCs.append('path').datum(cMiniIdx.map((d,k)=>[d,cMiniD[k]])).attr('fill','none').attr('stroke','#ff9f40').attr('stroke-width',1).attr('d',d3.line().x(d=>xC(d[0])).y(d=>sC(d[1])));
gCs.append('path').datum(cMiniIdx.map((d,k)=>[d,cMiniK[k]])).attr('fill','none').attr('stroke','#2a8a2a').attr('stroke-width',1).attr('d',d3.line().x(d=>xC(d[0])).y(d=>sC(d[1])));
vline(svg,XC+0.5,271,532,'#7ea6e6',1);
hline(svg,0,932,510.5,'#6b95dd',1.5);
hline(svg,0,932,521,'#6b95dd',1.2);
hline(svg,0,XC,532,'#6b95dd',1.5);
cTimeTickIdx.forEach((i,k)=>{ vline(svg,xC(i),532,535,'#7ea6e6'); txt(svg,xC(i),541,cTimeLabels[k],{anchor:'middle',size:6.5,fill:'#777'}); });
{
  const L = place([
    {y:yC(cCandles[cCandles.length-1][3]),t:d3.format('.2f')(cCandles[cCandles.length-1][3]),bg:BG,fg:'#113311',tag:'BTCUSDT'},
    {y:yC(cEma[cEma.length-1]),t:d3.format('.2f')(cEma[cEma.length-1]),bg:DG},
    {y:yC(cSma[cSma.length-1]),t:d3.format('.2f')(cSma[cSma.length-1]),bg:PINK},
    {y:vC(cVol[cVol.length-1]),t:d3.format('.3f')(cVol[cVol.length-1])+'K',bg:GM},
    {y:yC(cSupport),t:d3.format('.2f')(cSupport),bg:DR},
    {y:vC(cVolMa[cVolMa.length-1]),t:d3.format('.3f')(cVolMa[cVolMa.length-1])+'K',bg:OR}],12.5);
  priceTicks(cTicks,yC,XC,d3.format('.2f'),L,26);
  L.forEach(l=>{ tag(svg,XC+1,l.y,l.t,l.bg,l.fg,28); if(l.tag) tag(svg,XC-29,l.y,l.tag,l.bg,l.fg,29); });
  tag(svg,XC+1,515,'47.3378',NAVY,'#fff',28);
  svg.append('rect').attr('x',XC+1).attr('y',528).attr('width',12).attr('height',4).attr('fill',OR);
  tag(svg,XC+1,524,'75','#139a2a','#fff',12);
}
svg.append('rect').attr('x',0).attr('y',533).attr('width',55).attr('height',17).attr('fill','#b4f2b4');
txt(svg,3,544,"26 Nov '18 - 00:00",{fill:'#333',max:50});

// condense all text like the reference rendering
textLayer.forEach(([n,k,max])=>{ const l=n.getComputedTextLength(); let t=l*k; if(max && t>max) t=max; d3.select(n).attr('textLength',t).attr('lengthAdjust','spacingAndGlyphs'); });
</script></body></html>
